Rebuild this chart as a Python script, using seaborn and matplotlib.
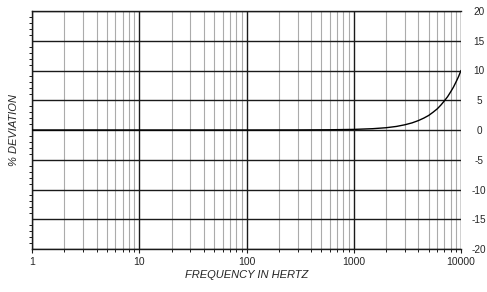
import numpy as np
import pandas as pd
import matplotlib
matplotlib.use("Agg")
import matplotlib.pyplot as plt
import seaborn as sns
from matplotlib.ticker import FixedLocator, NullFormatter, MultipleLocator

# Data
freq_hz = [1, 10, 100, 300, 600, 1000, 1500, 2000, 2500, 3000, 3500, 4000, 4500,
           5000, 5500, 6000, 6500, 7000, 7500, 8000, 8500, 9000, 9500, 10000]
deviation_pct = [0.0, 0.0, 0.0, 0.01, 0.04, 0.1, 0.22, 0.38, 0.6, 0.88, 1.2, 1.58, 2.0,
                 2.45, 3.0, 3.55, 4.2, 4.9, 5.6, 6.4, 7.2, 8.1, 9.0, 10.0]
x_ticks = [1, 10, 100, 1000, 10000]
x_tick_labels = ["1", "10", "100", "1000", "10000"]
y_ticks = [-20, -15, -10, -5, 0, 5, 10, 15, 20]
y_tick_labels = ["-20", "-15", "-10", "-5", "0", "5", "10", "15", "20"]

df = pd.DataFrame({"freq": freq_hz, "dev": deviation_pct})

sns.set_style("white")
plt.rcParams["font.family"] = ["Liberation Sans", "DejaVu Sans"]

fig = plt.figure(figsize=(4.87, 2.92), dpi=100)
ax = fig.add_axes([32 / 487, 43 / 292, (461 - 32) / 487, (249 - 11) / 292])

ax.set_xscale("log")
ax.set_xlim(1, 10000)
ax.set_ylim(-20, 20)

# Minor vertical grid
minor_x = [m * 10 ** d for d in range(4) for m in range(2, 10)]
for xv in minor_x:
    ax.axvline(xv, color="#ababab", lw=0.8, zorder=1)
for xv in x_ticks:
    ax.axvline(xv, color="#1a1a1a", lw=1.0, zorder=2)
for yv in y_ticks:
    ax.axhline(yv, color="#1a1a1a", lw=1.0, zorder=2)

sns.lineplot(data=df, x="freq", y="dev", ax=ax, color="black", lw=1.0, zorder=3)

ax.set_xticks(x_ticks)
ax.set_xticklabels(x_tick_labels)
ax.xaxis.set_minor_locator(FixedLocator(minor_x))
ax.xaxis.set_minor_formatter(NullFormatter())

ax.yaxis.tick_right()
ax.set_yticks(y_ticks)
ax.set_yticklabels(y_tick_labels)
for lab in ax.get_yticklabels():
    lab.set_horizontalalignment("center")
ax.yaxis.set_minor_locator(MultipleLocator(1))

ax.tick_params(axis="x", which="major", direction="out", length=3, width=0.8,
               labelsize=7.5, pad=3, color="#1a1a1a", bottom=True)
ax.tick_params(axis="x", which="minor", direction="out", length=2.5, width=0.7,
               color="#1a1a1a", bottom=True)
ax.tick_params(axis="y", which="major", right=False, left=False, labelsize=7.2, pad=9.5)
ax.tick_params(axis="y", which="minor", right=False, left=True, direction="out",
               length=2.5, width=0.7, color="#1a1a1a")

for side in ["left", "bottom", "top"]:
    ax.spines[side].set_visible(True)
    ax.spines[side].set_color("#1a1a1a")
    ax.spines[side].set_linewidth(1.0)
ax.spines["right"].set_visible(False)

ax.set_xlabel("FREQUENCY IN HERTZ", fontsize=8, style="italic", labelpad=2)
ax.set_ylabel("")
fig.text(14 / 487, 1 - 130 / 292, "% DEVIATION", rotation=90, fontsize=8,
         style="italic", ha="center", va="center")

fig.savefig("out.png", dpi=100)
